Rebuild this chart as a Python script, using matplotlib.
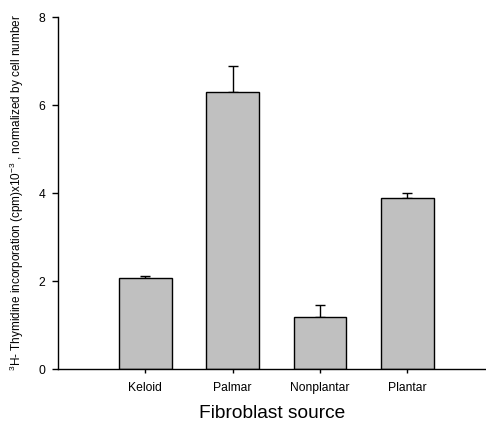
import matplotlib
matplotlib.use("Agg")
import matplotlib.pyplot as plt
import numpy as np

plt.rcParams["font.family"] = ["Liberation Sans", "DejaVu Sans"]
plt.rcParams["mathtext.fontset"] = "custom"
plt.rcParams["mathtext.rm"] = "Liberation Sans"
plt.rcParams["mathtext.it"] = "Liberation Sans"

sources = ["Keloid", "Palmar", "Nonplantar", "Plantar"]
means = [2.06, 6.29, 1.18, 3.89]
errors = [0.06, 0.60, 0.28, 0.10]
y_ticks = [0, 2, 4, 6, 8]

fig = plt.figure(figsize=(4.86, 4.21), dpi=100)
ax = fig.add_axes([0.1193, 0.1235, 0.8807, 0.8361])

x = np.arange(len(sources))
ax.bar(x, means, width=0.6, color="#c0c0c0", edgecolor="black", linewidth=1.0, zorder=2)
ax.errorbar(x, means, yerr=[np.zeros(len(errors)), errors], fmt="none",
            ecolor="black", elinewidth=1.0, capsize=3.4, capthick=1.0, zorder=1)

ax.set_xlim(-1.0, 3.9)
ax.set_ylim(0, 8)
ax.set_xticks(x)
ax.set_xticklabels(sources)
ax.set_yticks(y_ticks)

ax.spines["top"].set_visible(False)
ax.spines["right"].set_visible(False)
for s in ("left", "bottom"):
    ax.spines[s].set_linewidth(1.0)

ax.tick_params(axis="x", length=3, width=1, pad=6, labelsize=8.7)
ax.tick_params(axis="y", length=4, width=1, pad=5, labelsize=8.7)

ax.set_xlabel("Fibroblast source", fontsize=13.8, labelpad=8)
ax.set_ylabel(r"$^{3}$H- Thymidine incorporation (cpm)x10$^{-3}$ , normalized by cell number",
              fontsize=8.5, labelpad=9)

fig.savefig("out.png", dpi=100)
